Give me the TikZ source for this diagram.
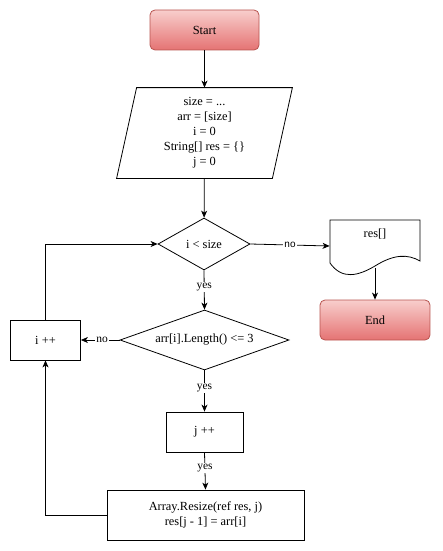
\documentclass[tikz,border=0pt]{standalone}
\usepackage{fontspec}
\setmainfont{Liberation Serif}
\newfontfamily\labelsans{Liberation Sans}
\usetikzlibrary{shapes.geometric,arrows.meta,calc}
\definecolor{termtop}{HTML}{F8CECC}
\definecolor{termbot}{HTML}{E57373}
\definecolor{termline}{HTML}{B85450}
\begin{document}
\begin{tikzpicture}[x=1pt,y=-1pt,
  font=\fontsize{12.4}{15}\selectfont,
  line width=0.8pt,
  every node/.style={inner sep=0pt},
  terminal/.style={draw=termline, rounded corners=5pt, top color=termtop,
    bottom color=termbot, minimum width=109pt, minimum height=40pt},
  procbox/.style={draw, rectangle, minimum height=40pt},
  decision/.style={draw, diamond},
  flow/.style={draw, -{Stealth[length=7pt,width=6pt,inset=2pt]}},
  yeslabel/.style={fill=white, inner sep=1pt, font=\fontsize{11.5}{13}\selectfont},
  nolabel/.style={fill=white, inner sep=1pt},
]
\useasboundingbox (0,0) rectangle (442,551);

% start / end terminals
\node[terminal] (start) at (204.5,30) {Start};
\node[terminal, minimum width=110pt] (end) at (375,320) {End};

% input block (parallelogram drawn around the text node)
\node[minimum width=175pt, minimum height=90pt, align=center] (init) at (204.5,133)
  {size = ...\\ arr = [size]\\ i = 0\\ String[] res = \{\}\\ j = 0};
\draw ($(init.north west)+(20,0)$) -- (init.north east)
  -- ($(init.south east)-(20,0)$) -- (init.south west) -- cycle;

% decisions
\node[decision, aspect=1.77, minimum width=92pt, minimum height=52pt] (cond) at (204,244) {i < size};
\node[decision, aspect=2.82, minimum width=169pt, minimum height=60pt] (len) at (204.5,340) {arr[i].Length() <= 3};

% processes
\node[procbox, minimum width=70pt] (inc) at (45.5,340) {i ++};
\node[procbox, minimum width=77pt] (jinc) at (204.5,432) {j ++};
\node[procbox, minimum width=197pt, minimum height=50pt, align=center] (resize) at (205.5,515)
  {Array.Resize(ref res, j)\\ res[j - 1] = arr[i]};

% output document
\node[minimum width=90pt, minimum height=52pt] (out) at (375,246) {};
\node at (375,234) {res[]};
\draw (330,263) -- (330,220) -- (420,220) -- (420,261)
  .. controls (408,254) and (394,254) .. (375,266)
  .. controls (358,276) and (342,280) .. (330,263);
\coordinate (outbot) at (375,268);

% connectors
\draw[flow] (start) -- (init);
\draw[flow] (init) -- (cond);
\draw[flow] (cond.east) -- (out.west) node[nolabel, pos=0.5, font=\labelsans\fontsize{10}{12}\selectfont] {no};
\draw[flow] (outbot) -- (end);
\draw[flow] (cond.south) -- (len.north) node[yeslabel, pos=0.42] {yes};
\draw[flow] (len.west) -- (inc.east) node[nolabel, pos=0.45, font=\fontsize{11.5}{13}\selectfont] {no};
\draw[flow] (len.south) -- (jinc.north) node[yeslabel, pos=0.42] {yes};
\draw[flow] (jinc.south) -- (resize.north) node[yeslabel, pos=0.42] {yes};
\draw[flow] (inc.north) |- (cond.west);
\draw[flow] (resize.west) -| (inc.south);
\end{tikzpicture}
\end{document}
